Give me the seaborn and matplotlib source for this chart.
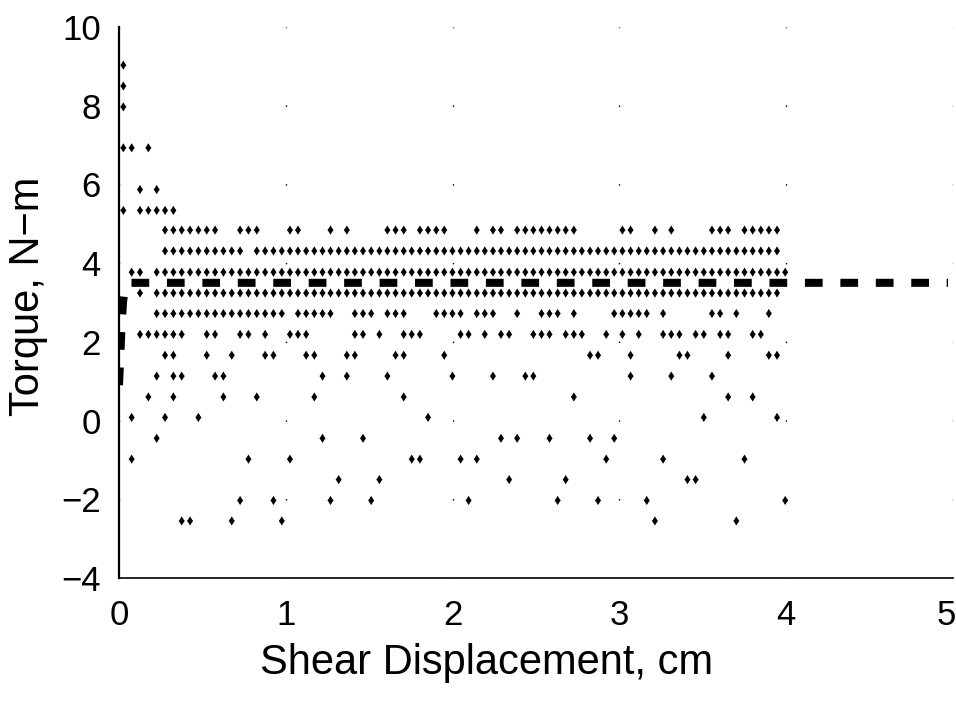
import numpy as np
import pandas as pd
import matplotlib
matplotlib.use("Agg")
import matplotlib.pyplot as plt
import matplotlib.transforms as mtransforms
from matplotlib.path import Path
from matplotlib.ticker import MultipleLocator
import seaborn as sns

# ---------------- data ----------------
# displacement (cm) of each sampling column
disp_cm = [0.026, 0.076, 0.126, 0.176, 0.226, 0.276, 0.326, 0.376, 0.426, 0.476,
           0.526, 0.576, 0.626, 0.676, 0.726, 0.776, 0.826, 0.876, 0.926, 0.976,
           1.025, 1.073, 1.122, 1.171, 1.220, 1.268, 1.317, 1.366, 1.414, 1.463,
           1.512, 1.561, 1.609, 1.658, 1.707, 1.755, 1.804, 1.853, 1.902, 1.950,
           1.999, 2.048, 2.096, 2.145, 2.193, 2.242, 2.290, 2.339, 2.387, 2.436,
           2.484, 2.533, 2.581, 2.630, 2.678, 2.727, 2.775, 2.824, 2.872, 2.921,
           2.969, 3.018, 3.067, 3.116, 3.164, 3.213, 3.262, 3.311, 3.360, 3.408,
           3.457, 3.506, 3.555, 3.604, 3.652, 3.701, 3.750, 3.799, 3.848, 3.896,
           3.945, 3.994]

# quantised torque readings (N-m)
torque_levels = [9.03, 8.50, 7.97, 6.93, 5.87, 5.34, 4.84, 4.31, 3.77, 3.24,
                 2.72, 2.19, 1.66, 1.13, 0.60, 0.08, -0.45, -0.98, -1.50, -2.03, -2.55]

# sampling columns (index into disp_cm) that show a reading at each level
cols_9p03 = [0]
cols_8p50 = [0]
cols_7p97 = [0]
cols_6p93 = [0, 1, 3]
cols_5p87 = [2, 4]
cols_5p34 = [0, 2, 3, 4, 5, 6]
cols_4p84 = [5, 6, 7, 8, 9, 10, 11, 14, 15, 16, 20, 21, 25, 27, 32, 33, 34, 36, 37, 38, 39,
             43, 45, 46, 48, 49, 50, 51, 52, 53, 54, 55, 61, 62, 65, 67, 72, 73, 74,
             76, 77, 78, 79, 80]
cols_4p31 = [*range(5, 15), *range(16, 81)]
cols_3p77 = [1, 2, *range(4, 82)]
cols_3p24 = [2, *range(4, 81)]
cols_2p72 = [*range(4, 20), 21, 22, 23, 24, 25, 28, 29, 30, 32, 33, 34, 38, 39, 40, 41,
             43, 44, 45, 48, 51, 52, 53, 55, 60, 61, 62, 63, 64, 66, 72, 73, 75, 79]
cols_2p19 = [2, 3, 4, 5, 6, 7, 10, 11, 14, 15, 17, 20, 21, 22, 28, 29, 31, 34, 35, 36,
             41, 42, 44, 46, 47, 50, 51, 52, 54, 55, 56, 59, 61, 63, 66, 67, 68, 70, 71,
             73, 74, 77, 78]
cols_1p66 = [5, 6, 10, 13, 17, 18, 22, 23, 27, 28, 33, 34, 39, 57, 58, 62, 68, 69, 74, 79, 80]
cols_1p13 = [4, 6, 7, 11, 12, 24, 27, 32, 40, 45, 49, 50, 62, 67, 72]
cols_0p60 = [3, 6, 12, 16, 23, 34, 55, 74, 77]
cols_0p08 = [1, 5, 9, 37, 71, 80]
cols_m0p45 = [4, 24, 29, 46, 48, 52, 57, 60]
cols_m0p98 = [1, 15, 20, 35, 36, 41, 43, 59, 66, 76]
cols_m1p50 = [26, 31, 47, 54, 69, 70]
cols_m2p03 = [14, 18, 25, 30, 42, 53, 58, 64, 81]
cols_m2p55 = [7, 8, 13, 19, 65, 75]

level_columns = [cols_9p03, cols_8p50, cols_7p97, cols_6p93, cols_5p87, cols_5p34,
                 cols_4p84, cols_4p31, cols_3p77, cols_3p24, cols_2p72, cols_2p19,
                 cols_1p66, cols_1p13, cols_0p60, cols_0p08, cols_m0p45, cols_m0p98,
                 cols_m1p50, cols_m2p03, cols_m2p55]

# fitted curve (dashed)
fit_disp = [0.0, 0.008, 0.016, 0.024, 0.032, 0.045, 0.07, 4.97]
fit_torque = [0.9, 1.7, 2.45, 3.0, 3.3, 3.45, 3.5, 3.5]

x_ticks = [0, 1, 2, 3, 4, 5]
x_tick_labels = ["0", "1", "2", "3", "4", "5"]
y_ticks = [-4, -2, 0, 2, 4, 6, 8, 10]
y_tick_labels = ["\u22124", "\u22122", "0", "2", "4", "6", "8", "10"]

# ---------------- build table ----------------
rows = []
for lev, cols in zip(torque_levels, level_columns):
    for c in cols:
        rows.append((disp_cm[c], lev))
df = pd.DataFrame(rows, columns=["disp", "torque"])

# ---------------- plotting ----------------
sns.set_style("white")
plt.rcParams["font.family"] = ["Liberation Sans", "DejaVu Sans"]

W, H = 956, 707
fig = plt.figure(figsize=(W / 100, H / 100), dpi=100)
ax = fig.add_axes([119 / W, (H - 578) / H, 834 / W, 551 / H])

star = Path([(0, 1), (0.38, 0.38), (0.66, 0), (0.38, -0.38), (0, -1),
             (-0.38, -0.38), (-0.66, 0), (-0.38, 0.38), (0, 1)],
            [Path.MOVETO] + [Path.LINETO] * 7 + [Path.CLOSEPOLY])

sns.lineplot(x=fit_disp, y=fit_torque, ax=ax, color="black", linewidth=5.8,
             estimator=None, sort=False, linestyle=(0, (2.2, 2.2)),
             dash_capstyle="butt", zorder=2)

sns.scatterplot(data=df, x="disp", y="torque", ax=ax, marker=star, s=44,
                color="black", edgecolor="none", linewidth=0, zorder=3)

ax.set_xlim(0, 5)
ax.set_ylim(-4, 10)

ax.set_xticks(x_ticks)
ax.set_xticklabels(x_tick_labels)
ax.set_yticks(y_ticks)
ax.set_yticklabels(y_tick_labels)
ax.yaxis.set_minor_locator(MultipleLocator(0.5))

for side in ["top", "right"]:
    ax.spines[side].set_visible(False)
ax.spines["left"].set_linewidth(1.6)
ax.spines["bottom"].set_linewidth(1.2)
for s in ["left", "bottom"]:
    ax.spines[s].set_color("black")

ax.tick_params(axis="y", which="major", direction="in", length=12, width=1.6,
               pad=13, labelsize=25, colors="black")
ax.tick_params(axis="y", which="minor", direction="out", length=3, width=0.8,
               colors="black")
ax.tick_params(axis="x", which="major", direction="in", length=4, width=1.0,
               pad=15, labelsize=25, colors="black")

# keep the last x tick label inside the canvas, as in the reference
last = ax.get_xticklabels()[-1]
last.set_transform(last.get_transform() +
                   mtransforms.ScaledTranslation(-7 / 100, 0, fig.dpi_scale_trans))

# dotted grid: dots only at the major y positions
ax_h_pt = 551 / 100 * 72
period = ax_h_pt / 7.0
ax.xaxis.grid(True, color="black", linewidth=1.0,
              linestyle=(0.5, (1.0, period - 1.0)))
ax.yaxis.grid(False)
ax.set_axisbelow(True)

ax.set_xlabel("Shear Displacement, cm", fontsize=30, color="black")
ax.set_ylabel("Torque, N\u2212m", fontsize=30, color="black")
ax.xaxis.set_label_coords(0.441, -0.118)
ax.yaxis.set_label_coords(-0.085, 0.512)

fig.savefig("out.png", dpi=100, facecolor="white")
